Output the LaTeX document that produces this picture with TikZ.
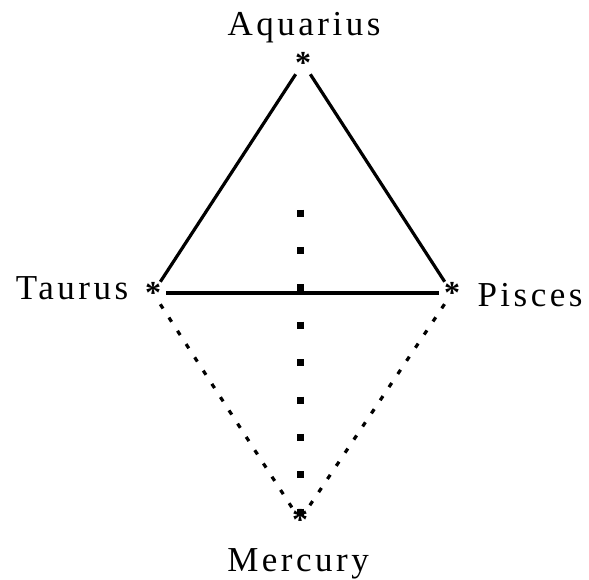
\documentclass[tikz,border=0pt]{standalone}
\usepackage{fontspec}
\setmainfont{Liberation Serif}
\newcommand{\signfont}{\fontsize{35}{42}\selectfont\addfontfeatures{LetterSpace=10}}

\begin{document}
\begin{tikzpicture}[x=1pt,y=-1pt,
  starmark/.style={circle,inner sep=0pt,minimum size=25pt,
    font=\fontsize{32}{32}\selectfont\bfseries},
  sign/.style={anchor=base,inner sep=0pt,font=\signfont},
  solidedge/.style={line width=3.2pt},
  dotedge/.style={line width=3.2pt,dash pattern=on 5pt off 10.8pt},
  axisedge/.style={line width=7pt,dash pattern=on 7pt off 30.4pt}]
  \useasboundingbox (0,0) rectangle (589,579);

  % the four signs
  \node[starmark] (aq) at (303,63)  {\raisebox{-6pt}{*}};
  \node[starmark] (ta) at (153,293) {\raisebox{-6pt}{*}};
  \node[starmark] (pi) at (452,293) {\raisebox{-6pt}{*}};
  \node[starmark] (me) at (300,520) {\raisebox{-6pt}{*}};
  \coordinate (top) at (300,209.5);

  % solid triangle
  \draw[solidedge] (aq) -- (ta);
  \draw[solidedge] (aq) -- (pi);
  \draw[solidedge] (ta) -- (pi);
  % dotted lower half
  \draw[dotedge] (ta) -- (me);
  \draw[dotedge] (pi) -- (me);
  \draw[axisedge] (top) -- (me.center);

  \node[sign] (aqlabel) at (304,35)  {Aquarius};
  \node[sign] (talabel) at (72,299)  {Taurus};
  \node[sign] (pilabel) at (530,306) {Pisces};
  \node[sign] (melabel) at (298,571) {Mercury};
\end{tikzpicture}
\end{document}
